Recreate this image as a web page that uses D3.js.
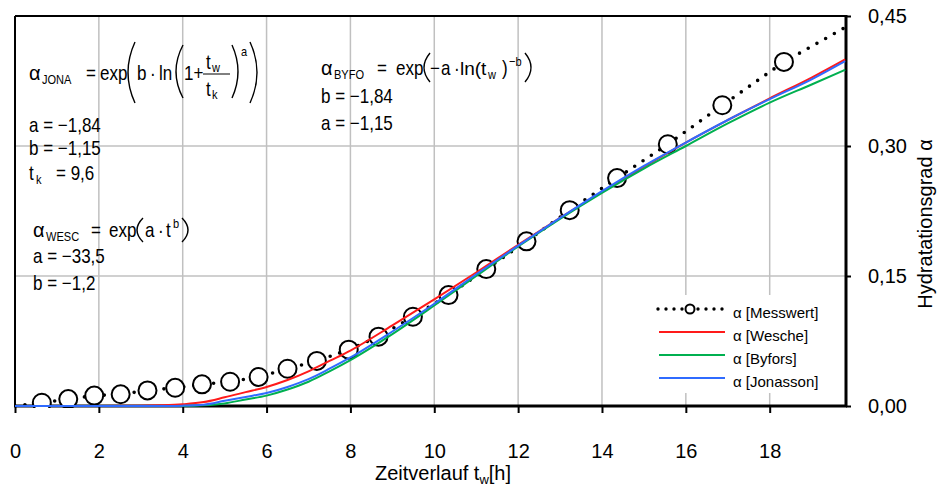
<!doctype html>
<html>
<head>
<meta charset="utf-8">
<style>
  body { margin: 0; background: #fff; }
  svg { display: block; font-family: "Liberation Sans", Arial, sans-serif; }
</style>
<script src="https://cdn.jsdelivr.net/npm/d3@7"></script>
</head>
<body>
<svg id="chart" width="938" height="489"></svg>
<script>
// measured hydration degree (first/last point only carry the dotted line to the frame)
var tMess = [0, 0.64, 1.27, 1.89, 2.52, 3.16, 3.82, 4.46, 5.13, 5.81, 6.5, 7.2, 7.96, 8.67,
             9.49, 10.34, 11.24, 12.2, 13.23, 14.36, 15.57, 16.87, 18.34, 20.1];
var aMess = [0, 0.0038, 0.008, 0.012, 0.0135, 0.018, 0.021, 0.025, 0.028, 0.0335, 0.043, 0.052, 0.065, 0.080,
             0.103, 0.128, 0.158, 0.190, 0.226, 0.263, 0.302, 0.347, 0.397, 0.445];

// model curves
var tModel    = [0, 1, 2, 3, 3.5, 4, 4.5, 5, 5.5, 6, 6.5, 7, 7.5, 8, 9, 10, 11, 12, 13, 14, 15, 16, 17, 18, 19, 19.8];
var aWesche   = [0, 0, 0, 0.0002, 0.0008, 0.002, 0.0045, 0.010, 0.016, 0.022, 0.030, 0.040, 0.052, 0.064,
                 0.093, 0.123, 0.154, 0.186, 0.217, 0.247, 0.276, 0.304, 0.330, 0.355, 0.379, 0.400];
var aByfors   = [0, 0, 0, 0, 0, 0.0001, 0.0008, 0.003, 0.0075, 0.012, 0.019, 0.028, 0.040, 0.053,
                 0.083, 0.116, 0.150, 0.184, 0.216, 0.246, 0.274, 0.300, 0.326, 0.350, 0.371, 0.388];
var aJonasson = [0, 0, 0, 0, 0.0001, 0.0004, 0.0015, 0.006, 0.0105, 0.015, 0.022, 0.031, 0.043, 0.056,
                 0.086, 0.118, 0.152, 0.185, 0.217, 0.248, 0.277, 0.304, 0.330, 0.354, 0.377, 0.398];

var xTicks = [0, 2, 4, 6, 8, 10, 12, 14, 16, 18];
var yTicks = [0, 0.15, 0.30, 0.45];
var legendNames = ["α [Messwert]", "α [Wesche]", "α [Byfors]", "α [Jonasson]"];
var colors = ["#000", "#ff1a1a", "#00b050", "#2f6bff"];

var svg = d3.select("#chart");
var L = 15, R = 846, T = 16, B = 406;
var x = d3.scaleLinear().domain([0, 19.82]).range([L, R]);
var y = d3.scaleLinear().domain([0, 0.45]).range([B, T]);
var comma = function(f) { return function(d) { return d3.format(f)(d).replace(".", ","); }; };

svg.append("clipPath").attr("id", "plot")
  .append("rect").attr("x", L).attr("y", T - 2).attr("width", R - L).attr("height", B - T + 4);

// grid
svg.append("g").selectAll("line").data(xTicks.filter(function(d){ return d > 0; })).enter().append("line")
  .attr("x1", function(d){ return x(d); }).attr("x2", function(d){ return x(d); })
  .attr("y1", T).attr("y2", B).attr("stroke", "#c0c0c0").attr("stroke-width", 1.5);
svg.append("g").selectAll("line").data(yTicks.filter(function(d){ return d > 0 && d < 0.45; })).enter().append("line")
  .attr("x1", L).attr("x2", R).attr("y1", function(d){ return y(d); }).attr("y2", function(d){ return y(d); })
  .attr("stroke", "#c0c0c0").attr("stroke-width", 1.5);

// legend background hides the grid
svg.append("rect").attr("x", 645).attr("y", 295).attr("width", 196).attr("height", 98).attr("fill", "#fff");

// frame
svg.append("line").attr("x1", L).attr("x2", L).attr("y1", T).attr("y2", B).attr("stroke", "#000").attr("stroke-width", 2);
svg.append("line").attr("x1", L).attr("x2", R).attr("y1", T).attr("y2", T).attr("stroke", "#000").attr("stroke-width", 2);

// axes
var gx = svg.append("g").attr("transform", "translate(0," + B + ")")
  .call(d3.axisBottom(x).tickValues(xTicks).tickSize(7).tickSizeOuter(0).tickPadding(31).tickFormat(d3.format("d")));
var gy = svg.append("g").attr("transform", "translate(" + R + ",0)")
  .call(d3.axisRight(y).tickValues(yTicks).tickSize(5).tickSizeOuter(0).tickPadding(17).tickFormat(comma(".2f")));
[gx, gy].forEach(function(g) {
  g.select(".domain").attr("stroke-width", 3);
  g.selectAll(".tick line").attr("stroke-width", 2);
  g.selectAll("text").attr("font-size", 20).attr("fill", "#000").attr("font-family", null);
});
gx.select(".domain").attr("d", "M" + (L - 1) + ",0H" + (R + 1));
gy.select(".domain").attr("d", "M0," + (T - 1) + "V" + (B + 1));

// axis titles
var xt = svg.append("text").attr("x", 443).attr("y", 480).attr("text-anchor", "middle").attr("font-size", 20);
xt.append("tspan").text("Zeitverlauf t");
xt.append("tspan").attr("font-size", 13).attr("dy", 4).text("w");
xt.append("tspan").attr("dy", -4).text("[h]");
svg.append("text").attr("transform", "translate(932,224) rotate(-90)").attr("text-anchor", "middle")
  .attr("font-size", 20).text("Hydratationsgrad  α");

// measured series
var mess = tMess.map(function(t, i){ return { t: t, a: aMess[i] }; });
var plot = svg.append("g").attr("clip-path", "url(#plot)");
plot.append("path").datum(mess)
  .attr("d", d3.line().x(function(d){ return x(d.t); }).y(function(d){ return y(d.a); }))
  .attr("fill", "none").attr("stroke", "#000").attr("stroke-width", 3.6)
  .attr("stroke-linecap", "round").attr("stroke-dasharray", "0,10");
plot.selectAll("circle").data(mess.filter(function(d){ return d.t > 0 && d.t < 19.82; })).enter().append("circle")
  .attr("cx", function(d){ return x(d.t); }).attr("cy", function(d){ return y(d.a); })
  .attr("r", 9).attr("fill", "#fff").attr("stroke", "#000").attr("stroke-width", 2);

// model curves
var line = d3.line().curve(d3.curveMonotoneX).x(function(d){ return x(d[0]); }).y(function(d){ return y(d[1]); });
[aWesche, aByfors, aJonasson].forEach(function(s, k) {
  plot.append("path").datum(tModel.map(function(t, i){ return [t, s[i]]; }))
    .attr("d", line).attr("fill", "none").attr("stroke", colors[k + 1]).attr("stroke-width", 2);
});

// legend
var lg = svg.append("g").attr("font-size", 15);
legendNames.forEach(function(n, i) {
  var yy = 309 + i * 23;
  if (i === 0) {
    lg.append("line").attr("x1", 658).attr("x2", 724).attr("y1", yy).attr("y2", yy)
      .attr("stroke", "#000").attr("stroke-width", 3.4).attr("stroke-linecap", "round").attr("stroke-dasharray", "0,8");
    lg.append("circle").attr("cx", 690).attr("cy", yy).attr("r", 4.5).attr("fill", "#fff").attr("stroke", "#000").attr("stroke-width", 2);
  } else {
    lg.append("line").attr("x1", 659).attr("x2", 725).attr("y1", yy).attr("y2", yy).attr("stroke", colors[i]).attr("stroke-width", 2);
  }
  lg.append("text").attr("x", 733).attr("y", yy + 9).text(n);
});

// formulas
var fm = svg.append("g");
function txt(px, py, s, size, sx) {
  fm.append("text").attr("transform", "translate(" + px + "," + py + ") scale(" + (sx || 0.85) + ",1)")
    .attr("font-size", size || 20).text(s);
}
function paren(x0, x1, top, bot, open) {
  var a = open ? x1 : x0, c = open ? x0 - (x1 - x0) : x1 + (x1 - x0);
  fm.append("path").attr("d", "M" + a + "," + top + "Q" + c + "," + (top + bot) / 2 + " " + a + "," + bot)
    .attr("fill", "none").attr("stroke", "#000").attr("stroke-width", 1.4);
}
// Jonasson
txt(29, 80, "α", 20, 1); txt(42, 84, "JONA", 13); txt(86, 80, "="); txt(100, 80, "exp");
paren(128, 135, 42, 103, true); txt(137, 80, "b"); txt(150, 80, "·"); txt(159, 80, "ln");
paren(176, 183, 45, 98, true); txt(184, 80, "1+");
txt(206, 69, "t"); txt(212, 72, "w", 13);
fm.append("line").attr("x1", 203).attr("x2", 230).attr("y1", 74).attr("y2", 74).attr("stroke", "#000").attr("stroke-width", 1);
txt(206, 96, "t"); txt(212, 99, "k", 13);
paren(232, 238, 45, 98, false); txt(241, 56, "a", 13); paren(250, 257, 42, 103, false);
txt(29, 132, "a = −1,84"); txt(29, 155, "b = −1,15");
txt(29, 180, "t"); txt(36, 184, "k", 13); txt(56, 180, "= 9,6");
// Byfors
txt(321, 75, "α", 20, 1); txt(334, 79, "BYFO", 13); txt(377, 75, "="); txt(396, 75, "exp");
paren(424, 430, 53, 82, true); txt(430, 75, "−"); txt(441, 75, "a"); txt(454, 75, "·");
txt(460, 75, "ln(t", 19, 1); txt(488, 79, "w", 13); txt(502, 75, ")"); txt(509, 66, "−b", 13);
paren(525, 531, 53, 82, false);
txt(321, 103, "b = −1,84"); txt(321, 130, "a = −1,15");
// Wesche
txt(33, 237, "α", 20, 1); txt(46, 241, "WESC", 13); txt(91, 237, "="); txt(109, 237, "exp");
paren(137, 143, 218, 242, true); txt(145, 237, "a"); txt(158, 237, "·"); txt(166, 237, "t"); txt(173, 228, "b", 13);
paren(182, 188, 218, 242, false);
txt(33, 263, "a = −33,5"); txt(33, 290, "b = −1,2");
</script>
</body>
</html>
